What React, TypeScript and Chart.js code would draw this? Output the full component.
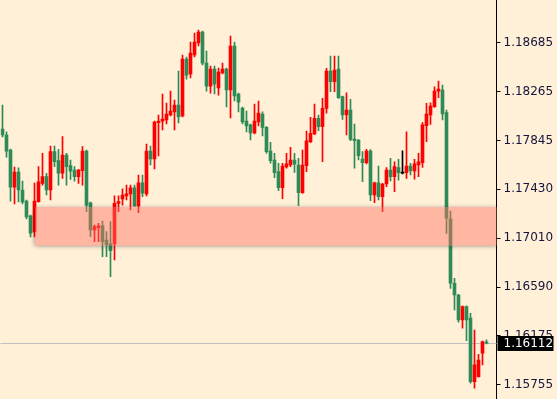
import React, { useEffect, useRef } from "react";
import { Chart, registerables } from "chart.js";

Chart.register(...registerables);

const opens = [
  1.17946, 1.17895, 1.17766, 1.17449, 1.17578, 1.17424, 1.17329, 1.17202, 1.17064, 1.17324,
  1.17481, 1.17538, 1.17424, 1.17752, 1.17675, 1.17567, 1.17723, 1.17632, 1.17595, 1.17538,
  1.17589, 1.17757, 1.17315, 1.17081, 1.17101, 1.17116, 1.16996, 1.16962, 1.16962, 1.17310,
  1.17347, 1.17373, 1.17390, 1.17443, 1.17287, 1.17486, 1.17390, 1.17757, 1.17689, 1.18000,
  1.18014, 1.18023, 1.18066, 1.18092, 1.18151, 1.18058, 1.18546, 1.18417, 1.18580, 1.18683,
  1.18777, 1.18511, 1.18314, 1.18460, 1.18297, 1.18426, 1.18460, 1.18280, 1.18657, 1.18246,
  1.18126, 1.18014, 1.17981, 1.17912, 1.18006, 1.18075, 1.17961, 1.17757, 1.17681, 1.17581,
  1.17444, 1.17621, 1.17638, 1.17681, 1.17638, 1.17401, 1.17632, 1.17838, 1.17904, 1.18038,
  1.17966, 1.18123, 1.18443, 1.18351, 1.18460, 1.18223, 1.18066, 1.18109, 1.17861, 1.17852,
  1.17689, 1.17658, 1.17757, 1.17381, 1.17486, 1.17367, 1.17475, 1.17595, 1.17538, 1.17615,
  1.17569, 1.17572, 1.17629, 1.17587, 1.17638, 1.17658, 1.17975, 1.18066, 1.18137, 1.18271,
  1.18280, 1.18086, 1.17176, 1.16625, 1.16525, 1.16311, 1.16425, 1.16326, 1.15783, 1.15826,
  1.16026, 1.16120,
];
const highs = [
  1.18151, 1.17921, 1.17775, 1.17621, 1.17613, 1.17500, 1.17338, 1.17210, 1.17483, 1.17624,
  1.17738, 1.17567, 1.17800, 1.17800, 1.17772, 1.17881, 1.17738, 1.17681, 1.17624, 1.17600,
  1.17795, 1.17765, 1.17320, 1.17124, 1.17139, 1.17158, 1.17067, 1.17153, 1.17373, 1.17373,
  1.17433, 1.17466, 1.17466, 1.17466, 1.17552, 1.17552, 1.17818, 1.17801, 1.18014, 1.18066,
  1.18246, 1.18168, 1.18271, 1.18194, 1.18443, 1.18580, 1.18563, 1.18691, 1.18768, 1.18794,
  1.18785, 1.18614, 1.18486, 1.18486, 1.18469, 1.18511, 1.18469, 1.18743, 1.18691, 1.18254,
  1.18135, 1.18100, 1.17989, 1.18160, 1.18186, 1.18094, 1.17968, 1.17833, 1.17738, 1.17653,
  1.17653, 1.17738, 1.17790, 1.17738, 1.17695, 1.17766, 1.17929, 1.18047, 1.18160, 1.18066,
  1.18209, 1.18466, 1.18571, 1.18571, 1.18571, 1.18229, 1.18257, 1.18200, 1.17989, 1.17856,
  1.17752, 1.17772, 1.17771, 1.17492, 1.17629, 1.17480, 1.17615, 1.17695, 1.17666, 1.17687,
  1.17760, 1.17923, 1.17653, 1.17687, 1.17738, 1.18001, 1.18166, 1.18171, 1.18308, 1.18357,
  1.18323, 1.18109, 1.17244, 1.16668, 1.16531, 1.16431, 1.16431, 1.16368, 1.16225, 1.16017,
  1.16131, 1.16140,
];
const lows = [
  1.17878, 1.17706, 1.17329, 1.17304, 1.17321, 1.17304, 1.17176, 1.17021, 1.17021, 1.17320,
  1.17466, 1.17381, 1.17338, 1.17624, 1.17466, 1.17524, 1.17466, 1.17515, 1.17500, 1.17481,
  1.17466, 1.17239, 1.17024, 1.16982, 1.16982, 1.16853, 1.16853, 1.16682, 1.16825, 1.17239,
  1.17295, 1.17338, 1.17253, 1.17283, 1.17230, 1.17367, 1.17373, 1.17638, 1.17604, 1.17715,
  1.17938, 1.17989, 1.18058, 1.17938, 1.17998, 1.18049, 1.18374, 1.18383, 1.18563, 1.18657,
  1.18494, 1.18271, 1.18254, 1.18246, 1.18237, 1.18417, 1.18135, 1.18041, 1.18186, 1.18092,
  1.17989, 1.17921, 1.17852, 1.17904, 1.17972, 1.17887, 1.17738, 1.17653, 1.17529, 1.17418,
  1.17349, 1.17610, 1.17624, 1.17575, 1.17290, 1.17394, 1.17581, 1.17829, 1.17898, 1.17932,
  1.17666, 1.18081, 1.18266, 1.18266, 1.18209, 1.18029, 1.17895, 1.17846, 1.17610, 1.17681,
  1.17495, 1.17647, 1.17332, 1.17315, 1.17338, 1.17238, 1.17452, 1.17501, 1.17409, 1.17509,
  1.17561, 1.17524, 1.17552, 1.17516, 1.17538, 1.17618, 1.17838, 1.17986, 1.18132, 1.18214,
  1.18023, 1.17053, 1.16582, 1.16397, 1.16291, 1.16240, 1.16134, 1.15769, 1.15727, 1.15820,
  1.15926, 1.16105,
];
const closes = [
  1.17895, 1.17757, 1.17449, 1.17578, 1.17424, 1.17321, 1.17193, 1.17055, 1.17329, 1.17494,
  1.17538, 1.17424, 1.17752, 1.17667, 1.17567, 1.17723, 1.17624, 1.17586, 1.17538, 1.17595,
  1.17757, 1.17295, 1.17081, 1.17110, 1.17116, 1.16982, 1.16953, 1.16904, 1.17310, 1.17324,
  1.17381, 1.17390, 1.17443, 1.17287, 1.17486, 1.17396, 1.17757, 1.17689, 1.18006, 1.18014,
  1.18032, 1.18075, 1.18100, 1.18151, 1.18049, 1.18546, 1.18408, 1.18597, 1.18691, 1.18777,
  1.18511, 1.18314, 1.18460, 1.18331, 1.18434, 1.18460, 1.18280, 1.18657, 1.18229, 1.18177,
  1.18006, 1.17972, 1.17912, 1.18014, 1.18083, 1.17960, 1.17752, 1.17675, 1.17572, 1.17444,
  1.17629, 1.17647, 1.17681, 1.17644, 1.17401, 1.17638, 1.17846, 1.17909, 1.18038, 1.17966,
  1.18123, 1.18443, 1.18351, 1.18451, 1.18214, 1.18066, 1.18109, 1.17858, 1.17846, 1.17718,
  1.17658, 1.17757, 1.17381, 1.17486, 1.17367, 1.17475, 1.17595, 1.17538, 1.17624, 1.17572,
  1.17569, 1.17629, 1.17587, 1.17647, 1.17666, 1.17981, 1.18075, 1.18143, 1.18271, 1.18289,
  1.18075, 1.17182, 1.16625, 1.16525, 1.16311, 1.16425, 1.16311, 1.15783, 1.15926, 1.15968,
  1.16126, 1.16112,
];

const tickValues = [1.18685, 1.18265, 1.17845, 1.1743, 1.1701, 1.1659, 1.16175, 1.15755];
const yMin = 1.15634;
const yMax = 1.19051;
const lastPrice = 1.16112;
const zoneTop = 1.17276;
const zoneBottom = 1.16949;
const zoneStartIndex = 8;
const emptySlots = 2;

const BG = "#fff0d7";
const UP = "#ff0000";
const DOWN = "#2e8b57";
const DOJI = "#000000";
const AXIS_TEXT = "#14143c";
const FONT = '"DejaVu Sans", Verdana, sans-serif';

export default function App() {
  const ref = useRef<HTMLCanvasElement | null>(null);

  useEffect(() => {
    document.body.style.margin = "0";
    document.body.style.background = BG;
    const canvas = ref.current;
    if (!canvas) return;

    const n = opens.length;
    const labels = Array.from({ length: n + emptySlots }, (_, i) => String(i));
    const colors = opens.map((o, i) =>
      closes[i] > o ? UP : closes[i] < o ? DOWN : DOJI
    );
    const bodies = opens.map((o, i) => [Math.min(o, closes[i]), Math.max(o, closes[i])]);
    const wicks = lows.map((l, i) => [l, highs[i]]);

    const bgPlugin = {
      id: "bg",
      beforeDraw(chart: any) {
        const { ctx, width, height } = chart;
        ctx.save();
        ctx.fillStyle = BG;
        ctx.fillRect(0, 0, width, height);
        ctx.restore();
      },
    };

    const priceLinePlugin = {
      id: "priceLine",
      beforeDatasetsDraw(chart: any) {
        const { ctx, chartArea, scales } = chart;
        const y = Math.round(scales.y.getPixelForValue(lastPrice)) + 0.5;
        ctx.save();
        ctx.strokeStyle = "#c0c0c0";
        ctx.lineWidth = 1;
        ctx.beginPath();
        ctx.moveTo(chartArea.left, y);
        ctx.lineTo(chartArea.right, y);
        ctx.stroke();
        ctx.restore();
      },
    };

    const zonePlugin = {
      id: "zone",
      afterDatasetsDraw(chart: any) {
        const { ctx, chartArea, scales, width, height } = chart;
        const x0 = Math.round(scales.x.getPixelForValue(zoneStartIndex));
        const x1 = chartArea.right;
        const yt = scales.y.getPixelForValue(zoneTop);
        const yb = scales.y.getPixelForValue(zoneBottom);
        ctx.save();
        ctx.beginPath();
        ctx.rect(chartArea.left, chartArea.top, chartArea.right - chartArea.left, chartArea.bottom - chartArea.top);
        ctx.clip();
        ctx.beginPath();
        ctx.rect(0, 0, width, height);
        ctx.rect(x0, yt, x1 - x0, yb - yt);
        ctx.clip("evenodd");
        ctx.shadowColor = "rgba(0,0,0,0.45)";
        ctx.shadowBlur = 5;
        ctx.shadowOffsetX = 0;
        ctx.shadowOffsetY = 1;
        ctx.fillStyle = "#ffb4a8";
        ctx.fillRect(x0, yt, x1 - x0, yb - yt);
        ctx.restore();
        ctx.save();
        ctx.fillStyle = "rgba(255,110,100,0.45)";
        ctx.fillRect(x0, yt, x1 - x0, yb - yt);
        ctx.restore();
      },
    };

    const priceLabelPlugin = {
      id: "priceLabel",
      afterDraw(chart: any) {
        const { ctx, scales } = chart;
        const y = scales.y.getPixelForValue(lastPrice);
        const x = scales.y.left + 1;
        ctx.save();
        ctx.fillStyle = "#000";
        ctx.fillRect(x, Math.round(y) - 7, 56, 15);
        ctx.fillStyle = "#fff";
        ctx.font = "12px " + FONT;
        ctx.textBaseline = "middle";
        ctx.textAlign = "left";
        ctx.fillText(lastPrice.toFixed(5), scales.y.left + 7, Math.round(y) + 0.5);
        ctx.restore();
      },
    };

    const chart = new Chart(canvas, {
      type: "bar",
      data: {
        labels,
        datasets: [
          {
            label: "body",
            data: bodies as any,
            backgroundColor: colors,
            borderWidth: 0,
            barThickness: 3,
            minBarLength: 1,
            grouped: false,
            order: 0,
          },
          {
            label: "wick",
            data: wicks as any,
            backgroundColor: colors,
            borderWidth: 0,
            barThickness: 1,
            minBarLength: 1,
            grouped: false,
            order: 1,
          },
        ],
      },
      options: {
        responsive: false,
        animation: false,
        devicePixelRatio: 1,
        layout: { padding: { left: 0.5, right: 0, top: 0, bottom: 0 } },
        plugins: {
          legend: { display: false },
          tooltip: { enabled: false },
        },
        scales: {
          x: {
            type: "category",
            display: false,
            offset: true,
          },
          y: {
            position: "right",
            min: yMin,
            max: yMax,
            afterBuildTicks: (scale: any) => {
              scale.ticks = tickValues.map((v) => ({ value: v }));
            },
            afterFit: (scale: any) => {
              scale.width = 60.5;
              scale.paddingTop = 0;
              scale.paddingBottom = 0;
            },
            ticks: {
              autoSkip: false,
              padding: 3,
              color: AXIS_TEXT,
              font: { family: FONT, size: 12 },
              callback: (v: any) => Number(v).toFixed(5),
            },
            grid: {
              drawOnChartArea: false,
              drawTicks: true,
              tickLength: 4,
              color: "#000",
            },
            border: { display: true, color: "#000", width: 1 },
          },
        },
      },
      plugins: [bgPlugin, priceLinePlugin, zonePlugin, priceLabelPlugin],
    });

    return () => chart.destroy();
  }, []);

  return (
    <div style={{ width: 557, height: 399, background: BG }}>
      <canvas ref={ref} width={557} height={399} style={{ display: "block" }} />
    </div>
  );
}
